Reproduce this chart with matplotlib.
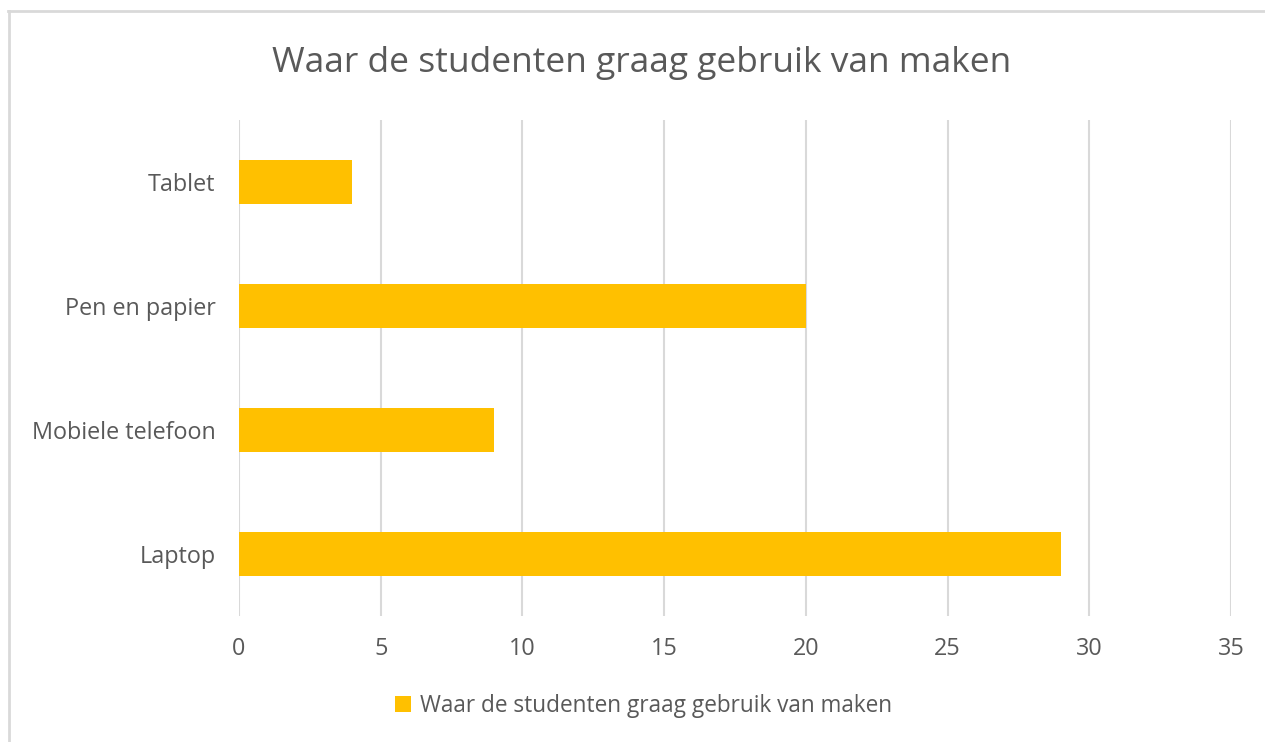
import matplotlib.pyplot as plt
from matplotlib.lines import Line2D

categories = ["Laptop", "Mobiele telefoon", "Pen en papier", "Tablet"]
values = [29, 9, 20, 4]
series_name = "Waar de studenten graag gebruik van maken"
x_ticks = [0, 5, 10, 15, 20, 25, 30, 35]

W, H = 1265, 742
plt.rcParams['font.family'] = ['Open Sans', 'DejaVu Sans']

fig = plt.figure(figsize=(W / 100, H / 100), dpi=100)
ax = fig.add_axes([239 / W, 1 - 616 / H, (1231 - 239) / W, (616 - 120) / H])

bars = ax.barh(range(len(categories)), values, height=0.355,
               color="#FFC000", label=series_name, zorder=3)

ax.set_xlim(0, 35)
ax.set_ylim(-0.5, len(categories) - 0.5)
ax.set_xticks(x_ticks)
ax.set_yticks(range(len(categories)))
ax.set_yticklabels(categories)
ax.grid(axis="x", color="#D9D9D9", lw=1.5, zorder=0)
for s in ax.spines.values():
    s.set_visible(False)
ax.tick_params(axis="both", length=0, labelsize=16.8, colors="#595959")
ax.tick_params(axis="x", pad=15)
ax.tick_params(axis="y", pad=17)

fig.text(642 / W, 1 - 63 / H, series_name, ha="center", va="center",
         fontsize=25.5, color="#595959")

fig.legend(handles=[bars], labels=[series_name], loc="center",
           bbox_to_anchor=(644 / W, 1 - 706 / H), frameon=False, fontsize=16.3,
           labelcolor="#595959", handlelength=0.7, handleheight=0.7,
           handletextpad=0.4)

# outer chart border (top and left only visible)
fig.add_artist(Line2D([8 / W, 1], [1 - 11 / H, 1 - 11 / H], color="#D9D9D9", lw=2))
fig.add_artist(Line2D([9 / W, 9 / W], [0, 1 - 11 / H], color="#D9D9D9", lw=2))

fig.savefig("out.png", dpi=100)
